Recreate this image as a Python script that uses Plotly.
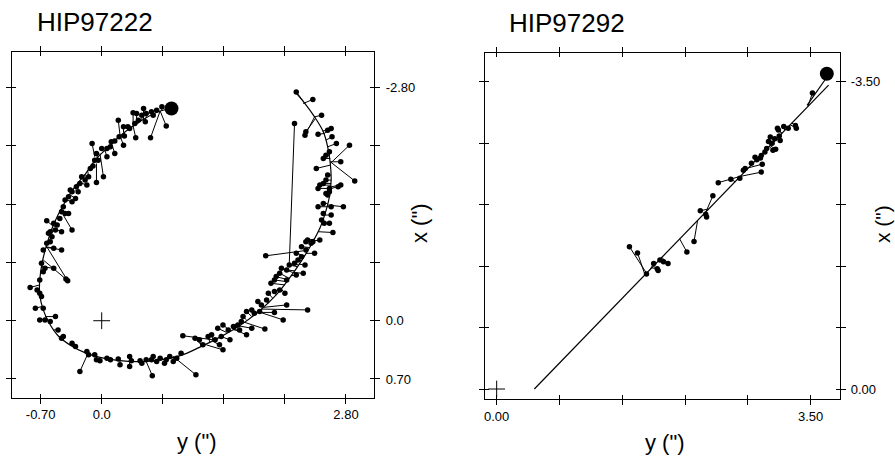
import plotly.graph_objects as go

# HIP97222 : fitted orbit (y", x")
orbit1_y = [0.80,0.67,0.51,0.36,0.21,0.06,-0.06,-0.19,-0.32,-0.44,-0.55,-0.62,-0.68,-0.71,-0.71,-0.67,-0.60,-0.50,-0.35,-0.18,-0.02,0.21,0.44,0.67,0.90,1.12,1.35,1.58,1.81,2.00,2.15,2.29,2.40,2.50,2.57,2.61,2.63,2.62,2.59,2.54,2.44,2.33,2.21]
orbit1_x = [-2.55,-2.52,-2.44,-2.34,-2.22,-2.07,-1.95,-1.76,-1.59,-1.39,-1.16,-0.95,-0.71,-0.49,-0.31,-0.13,0.03,0.18,0.30,0.39,0.44,0.48,0.49,0.47,0.42,0.32,0.20,0.06,-0.12,-0.31,-0.51,-0.72,-0.91,-1.11,-1.32,-1.49,-1.69,-1.89,-2.09,-2.27,-2.45,-2.61,-2.76]

# HIP97222 : observations and their positions on the orbit
obs1_y = [
	0.74,0.56,0.69,0.63,0.57,0.59,0.48,0.51,0.46,0.40,
	0.36,0.42,0.50,0.38,0.32,0.30,0.39,0.25,0.19,0.26,
	0.20,0.25,0.15,0.11,0.10,0.15,0.06,0.06,0.00,-0.11,
	-0.06,-0.08,-0.04,-0.10,-0.13,0.02,-0.06,-0.15,-0.19,-0.23,
	-0.25,-0.17,-0.29,-0.27,-0.34,-0.30,-0.36,-0.38,-0.42,-0.34,
	-0.44,-0.42,-0.46,-0.38,-0.48,-0.34,-0.63,-0.55,-0.51,-0.46,
	-0.59,-0.53,-0.61,-0.57,-0.59,-0.63,-0.46,-0.55,-0.67,-0.69,
	-0.65,-0.55,-0.67,-0.71,-0.39,-0.41,
	-0.82,-0.74,-0.71,-0.69,-0.76,-0.67,-0.71,-0.65,-0.53,-0.59,
	-0.50,-0.46,-0.44,-0.34,-0.30,-0.17,-0.25,-0.08,-0.15,-0.06,
	-0.02,0.06,0.10,0.19,0.21,0.32,0.34,0.32,0.44,0.46,
	0.51,0.57,0.59,0.63,0.58,0.67,0.72,0.74,0.78,0.82,
	0.86,0.91,1.08,0.93,1.07,1.12,1.16,1.22,1.26,1.30,
	1.37,1.39,1.35,1.47,1.33,1.39,1.45,1.51,1.56,1.58,
	1.66,1.72,1.87,1.60,1.62,1.66,1.72,1.75,1.81,1.98,
	2.08,2.12,2.36,1.79,1.83,1.89,1.91,1.98,2.04,2.10,
	1.94,1.98,2.00,2.04,2.12,2.23,2.31,2.06,2.12,2.15,
	2.21,2.25,2.29,2.33,2.23,2.44,2.34,1.88,2.42,2.50,
	2.23,2.42,2.52,2.33,2.34,2.48,2.59,2.63,2.64,2.69,
	2.61,2.54,2.57,2.84,2.46,2.74,2.90,2.59,2.57,2.54,
	2.48,2.50,2.61,2.74,2.71,2.57,2.61,2.59,2.48,2.54,
	2.63,2.77,2.54,2.52,2.63,2.61,2.55,2.65,2.36,2.40,2.34,
	2.29,2.21,
]
obs1_x = [
	-2.34,-2.20,-2.57,-2.53,-2.51,-2.47,-2.55,-2.49,-2.47,-2.49,
	-2.50,-2.41,-2.39,-2.37,-2.31,-2.33,-2.20,-2.33,-2.41,-2.22,
	-2.21,-2.11,-2.16,-2.15,-2.09,-2.01,-2.07,-1.97,-2.07,-2.13,
	-2.01,-1.93,-1.93,-1.86,-1.83,-1.73,-1.66,-1.73,-1.69,-1.73,
	-1.65,-1.63,-1.61,-1.55,-1.55,-1.47,-1.57,-1.49,-1.45,-1.43,
	-1.37,-1.29,-1.31,-1.29,-1.23,-1.09,-1.20,-1.17,-1.15,-1.07,
	-1.07,-1.09,-1.05,-1.01,-0.95,-0.93,-0.85,-0.87,-0.85,-0.69,
	-0.63,-0.63,-0.59,-0.49,-0.48,-0.50,
	-0.40,-0.37,-0.33,-0.29,-0.15,-0.15,-0.01,-0.01,-0.05,0.01,
	0.11,0.21,0.19,0.27,0.31,0.37,0.61,0.41,0.41,0.47,
	0.48,0.45,0.47,0.46,0.53,0.43,0.48,0.55,0.48,0.51,
	0.47,0.47,0.43,0.49,0.66,0.45,0.51,0.47,0.43,0.49,
	0.45,0.39,0.65,0.18,0.21,0.23,0.29,0.19,0.17,0.23,
	0.19,0.35,0.29,0.23,0.09,0.05,0.11,0.07,0.05,0.11,
	0.17,0.09,0.10,0.01,-0.05,-0.11,-0.13,-0.09,-0.11,-0.10,
	-0.01,-0.19,-0.13,-0.23,-0.19,-0.25,-0.33,-0.35,-0.37,-0.33,
	-0.45,-0.49,-0.53,-0.57,-0.49,-0.55,-0.57,-0.63,-0.61,-0.67,
	-0.69,-0.73,-0.77,-0.67,-0.81,-0.81,-0.85,-0.78,-0.95,-0.97,
	-2.75,-2.66,-2.47,-2.23,-2.27,-2.24,-2.29,-2.31,-2.21,-2.13,
	-2.03,-1.95,-1.99,-2.11,-1.83,-1.91,-1.68,-1.75,-1.69,-1.65,
	-1.59,-1.63,-1.59,-1.63,-1.61,-1.53,-1.55,-1.51,-1.37,-1.41,
	-1.37,-1.37,-1.29,-1.21,-1.27,-1.17,-1.17,-1.06,-0.97,-0.93,-0.95,
	-0.89,-2.37,
]
fit1_y = [
	0.67,0.67,0.69,0.63,0.57,0.59,0.48,0.51,0.46,0.40,
	0.36,0.42,0.50,0.38,0.33,0.30,0.36,0.25,0.21,0.26,
	0.21,0.21,0.15,0.11,0.08,0.11,0.06,0.04,0.02,-0.08,
	-0.05,-0.08,-0.06,-0.10,-0.13,-0.02,-0.06,-0.16,-0.19,-0.21,
	-0.25,-0.25,-0.29,-0.30,-0.33,-0.36,-0.34,-0.38,-0.41,-0.40,
	-0.44,-0.48,-0.47,-0.46,-0.51,-0.44,-0.56,-0.55,-0.55,-0.55,
	-0.58,-0.57,-0.59,-0.60,-0.62,-0.63,-0.64,-0.64,-0.65,-0.68,
	-0.69,-0.69,-0.70,-0.71,-0.63,-0.67,
	-0.71,-0.71,-0.71,-0.71,-0.69,-0.68,-0.63,-0.63,-0.65,-0.60,
	-0.55,-0.48,-0.46,-0.36,-0.32,-0.18,-0.16,-0.08,-0.15,-0.06,
	-0.02,0.06,0.10,0.19,0.21,0.32,0.34,0.32,0.44,0.46,
	0.51,0.57,0.59,0.63,0.51,0.67,0.72,0.74,0.78,0.82,
	0.86,0.91,0.82,1.28,1.16,1.14,1.16,1.24,1.28,1.30,
	1.36,1.20,1.28,1.37,1.43,1.47,1.45,1.53,1.57,1.51,
	1.51,1.56,1.64,1.60,1.66,1.72,1.73,1.75,1.81,1.77,
	1.79,1.85,1.83,1.85,1.85,1.91,1.96,2.00,2.03,2.06,
	2.10,2.12,2.14,2.15,2.12,2.17,2.19,2.19,2.21,2.24,
	2.25,2.29,2.31,2.26,2.33,2.34,2.35,2.31,2.42,2.43,
	2.33,2.31,2.44,2.44,2.45,2.55,2.53,2.55,2.57,2.59,
	2.61,2.62,2.61,2.62,2.62,2.62,2.62,2.63,2.63,2.63,
	2.62,2.63,2.62,2.63,2.63,2.61,2.61,2.61,2.58,2.59,
	2.58,2.59,2.57,2.54,2.56,2.53,2.53,2.48,2.44,2.42,2.43,
	2.38,2.15,
]
fit1_x = [
	-2.52,-2.52,-2.53,-2.51,-2.47,-2.49,-2.41,-2.44,-2.41,-2.37,
	-2.34,-2.37,-2.43,-2.35,-2.33,-2.31,-2.34,-2.26,-2.23,-2.26,
	-2.21,-2.22,-2.17,-2.14,-2.09,-2.14,-2.06,-2.04,-2.03,-1.97,
	-1.96,-1.94,-1.94,-1.89,-1.85,-2.01,-1.89,-1.80,-1.76,-1.74,
	-1.66,-1.66,-1.62,-1.57,-1.57,-1.51,-1.56,-1.49,-1.44,-1.45,
	-1.39,-1.31,-1.32,-1.33,-1.25,-1.27,-1.14,-1.16,-1.13,-1.11,
	-1.07,-1.09,-1.05,-1.01,-0.95,-0.93,-0.89,-0.88,-0.84,-0.71,
	-0.65,-0.65,-0.59,-0.49,-0.89,-0.73,
	-0.43,-0.37,-0.33,-0.29,-0.17,-0.15,-0.02,-0.02,-0.05,0.04,
	0.11,0.20,0.21,0.29,0.32,0.39,0.40,0.42,0.40,0.43,
	0.44,0.46,0.46,0.48,0.48,0.49,0.49,0.49,0.49,0.49,
	0.49,0.49,0.49,0.48,0.49,0.47,0.46,0.46,0.45,0.43,
	0.43,0.41,0.43,0.23,0.31,0.31,0.31,0.26,0.25,0.24,
	0.20,0.29,0.25,0.19,0.14,0.12,0.13,0.10,0.06,0.11,
	0.10,0.06,0.02,0.04,-0.01,-0.05,-0.06,-0.08,-0.12,-0.10,
	-0.11,-0.16,-0.14,-0.17,-0.16,-0.21,-0.27,-0.31,-0.35,-0.38,
	-0.43,-0.47,-0.49,-0.51,-0.47,-0.54,-0.58,-0.58,-0.60,-0.65,
	-0.67,-0.72,-0.75,-0.68,-0.78,-0.81,-0.83,-0.84,-0.95,-0.96,
	-2.61,-2.61,-2.45,-2.45,-2.43,-2.25,-2.28,-2.25,-2.17,-2.09,
	-1.99,-1.95,-1.99,-1.89,-1.87,-1.91,-1.91,-1.75,-1.69,-1.65,
	-1.59,-1.63,-1.59,-1.61,-1.59,-1.53,-1.55,-1.49,-1.37,-1.41,
	-1.37,-1.39,-1.29,-1.21,-1.27,-1.17,-1.17,-1.07,-0.98,-0.94,-0.96,
	-0.88,-0.69,
]
start1 = (0.80, -2.55)

# HIP97292 : fitted orbit (two nearly overlapping branches)
orbit2_y = [0.42, 3.70, None, 3.46, 3.68]
orbit2_x = [0.00, -3.46, None, -3.23, -3.55]

obs2_y = [1.48,1.57,1.67,1.75,1.82,1.80,1.91,1.86,1.79,2.12,
	2.20,2.27,2.41,2.34,2.33,2.47,2.61,2.71,2.75,2.77,
	2.95,2.96,2.84,2.88,2.90,2.94,2.95,2.99,3.01,3.07,
	3.08,3.11,3.03,3.05,3.10,3.16,3.15,3.14,3.20,3.25,
	3.33,3.34,3.52,3.13]
obs2_x = [-1.62,-1.55,-1.31,-1.43,-1.47,-1.35,-1.43,-1.45,-1.37,-1.56,
	-1.68,-2.03,-2.20,-1.96,-1.99,-2.35,-2.39,-2.40,-2.49,-2.51,
	-2.47,-2.56,-2.57,-2.64,-2.61,-2.63,-2.66,-2.70,-2.74,-2.80,
	-2.72,-2.73,-2.82,-2.87,-2.85,-2.83,-2.88,-2.95,-2.99,-2.97,
	-3.00,-2.97,-3.37,-2.97]
fit2_y = [1.67,1.65,1.66,1.71,1.82,1.75,1.84,1.80,1.73,2.04,
	2.24,2.36,2.33,2.32,2.32,2.71,2.66,2.70,2.77,2.78,
	2.71,2.81,2.85,2.92,2.90,2.92,2.95,2.98,3.01,3.07,
	3.04,3.05,3.05,3.10,3.12,3.12,3.15,3.18,3.21,3.23,
	3.29,3.27,3.47,3.18]
fit2_x = [-1.32,-1.31,-1.31,-1.36,-1.48,-1.40,-1.50,-1.46,-1.38,-1.71,
	-1.92,-2.05,-2.01,-2.00,-2.01,-2.42,-2.36,-2.41,-2.48,-2.49,
	-2.42,-2.52,-2.57,-2.64,-2.62,-2.64,-2.67,-2.70,-2.74,-2.80,
	-2.76,-2.77,-2.77,-2.82,-2.85,-2.85,-2.88,-2.91,-2.95,-2.97,
	-3.03,-3.01,-3.22,-2.91]
start2 = (3.68, -3.59)

ticks1_y = [-0.70, 0.0, 0.70, 1.40, 2.10, 2.80]
ticktext1_y = ['-0.70', '0.0', '', '', '', '2.80']
ticks1_x = [-2.80, -2.10, -1.40, -0.70, 0.0, 0.70]
ticktext1_x = ['-2.80', '', '', '', '0.0', '0.70']
ticks2_y = [0.0, 0.70, 1.40, 2.10, 2.80, 3.50]
ticktext2_y = ['0.00', '', '', '', '', '3.50']
ticks2_x = [-3.50, -2.80, -2.10, -1.40, -0.70, 0.0]
ticktext2_x = ['-3.50', '', '', '', '', '0.00']

FONT = 'Liberation Sans, Arial, sans-serif'
W, H = 895, 459

def residual_segments(oy, ox, fy, fx):
	xs, ys = [], []
	for a, b, c, d in zip(oy, ox, fy, fx):
		xs += [a, c, None]
		ys += [b, d, None]
	return xs, ys

fig = go.Figure()

def add_panel(xa, ya, orb_y, orb_x, oy, ox, fy, fx, start, smooth):
	rx, ry = residual_segments(oy, ox, fy, fx)
	fig.add_trace(go.Scatter(x=rx, y=ry, mode='lines', line=dict(color='black', width=1), xaxis=xa, yaxis=ya, hoverinfo='skip'))
	fig.add_trace(go.Scatter(x=orb_y, y=orb_x, mode='lines', line=dict(color='black', width=1.2, shape='spline' if smooth else 'linear'), xaxis=xa, yaxis=ya))
	fig.add_trace(go.Scatter(x=oy, y=ox, mode='markers', marker=dict(color='black', size=5.5), xaxis=xa, yaxis=ya))
	fig.add_trace(go.Scatter(x=[start[0]], y=[start[1]], mode='markers', marker=dict(color='black', size=14), xaxis=xa, yaxis=ya))
	fig.add_trace(go.Scatter(x=[0], y=[0], mode='markers', marker=dict(symbol='cross-thin', size=12, line=dict(color='black', width=1)), xaxis=xa, yaxis=ya))

add_panel('x', 'y', orbit1_y, orbit1_x, obs1_y, obs1_x, fit1_y, fit1_x, start1, True)
add_panel('x2', 'y2', orbit2_y, orbit2_x, obs2_y, obs2_x, fit2_y, fit2_x, start2, False)
# empty traces so the overlay axes (inner half of the crossing ticks) get drawn
fig.add_trace(go.Scatter(x=[None], y=[None], xaxis='x3', yaxis='y3', hoverinfo='skip'))
fig.add_trace(go.Scatter(x=[None], y=[None], xaxis='x4', yaxis='y4', hoverinfo='skip'))

axis_common = dict(
	showline=True, linecolor='black', linewidth=1.2,
	ticks='outside', ticklen=5, tickwidth=1, tickcolor='black',
	mirror='allticks', showgrid=False, zeroline=False,
	tickmode='array', tickfont=dict(family=FONT, size=13, color='black'),
)
inner_common = dict(axis_common, ticks='inside', ticklen=4, showticklabels=False)

dom1_x = [12/W, 374/W]
dom1_y = [(H-397.7)/H, (H-51.7)/H]
rng1_x = [-1.028, 3.121]
rng1_y = [0.925, -3.233]
dom2_x = [485/W, 840/W]
dom2_y = [(H-399.3)/H, (H-53.3)/H]
rng2_x = [-0.130, 3.827]
rng2_y = [0.117, -3.823]

fig.update_layout(
	width=W, height=H,
	margin=dict(l=0, r=0, t=0, b=0),
	paper_bgcolor='white', plot_bgcolor='white',
	showlegend=False,
	xaxis=dict(axis_common, domain=dom1_x, range=rng1_x, tickvals=ticks1_y, ticktext=ticktext1_y, anchor='y', side='bottom'),
	yaxis=dict(axis_common, domain=dom1_y, range=rng1_y, tickvals=ticks1_x, ticktext=ticktext1_x, anchor='x', side='right', ticklabelstandoff=3),
	xaxis3=dict(inner_common, range=rng1_x, tickvals=ticks1_y, overlaying='x', anchor='y3', side='bottom'),
	yaxis3=dict(inner_common, range=rng1_y, tickvals=ticks1_x, overlaying='y', anchor='x3', side='right'),
	xaxis2=dict(axis_common, domain=dom2_x, range=rng2_x, tickvals=ticks2_y, ticktext=ticktext2_y, anchor='y2', side='bottom'),
	yaxis2=dict(axis_common, domain=dom2_y, range=rng2_y, tickvals=ticks2_x, ticktext=ticktext2_x, anchor='x2', side='right', ticklabelstandoff=2),
	xaxis4=dict(inner_common, range=rng2_x, tickvals=ticks2_y, overlaying='x2', anchor='y4', side='bottom'),
	yaxis4=dict(inner_common, range=rng2_y, tickvals=ticks2_x, overlaying='y2', anchor='x4', side='right'),
)

def label(text, px, py, size, angle=0, xanchor='center'):
	fig.add_annotation(
		text=text, x=px/W, y=(H-py)/H, xref='paper', yref='paper',
		xanchor=xanchor, yanchor='middle', showarrow=False, textangle=angle,
		font=dict(family=FONT, size=size, color='black'),
	)

label('HIP97222', 35, 22, 26, xanchor='left')
label('HIP97292', 507, 23, 26, xanchor='left')
label('y (")', 197, 441, 22)
label('x (")', 419, 223, 22, angle=-90)
label('y (")', 665, 442, 22)
label('x (")', 882, 224, 21, angle=-90)

# the page's default body margin would push the figure 8 px off
fig.write_html(
	'out.html',
	config={'displayModeBar': False},
	post_script="document.body.style.margin='0';document.body.style.overflow='hidden';",
)
